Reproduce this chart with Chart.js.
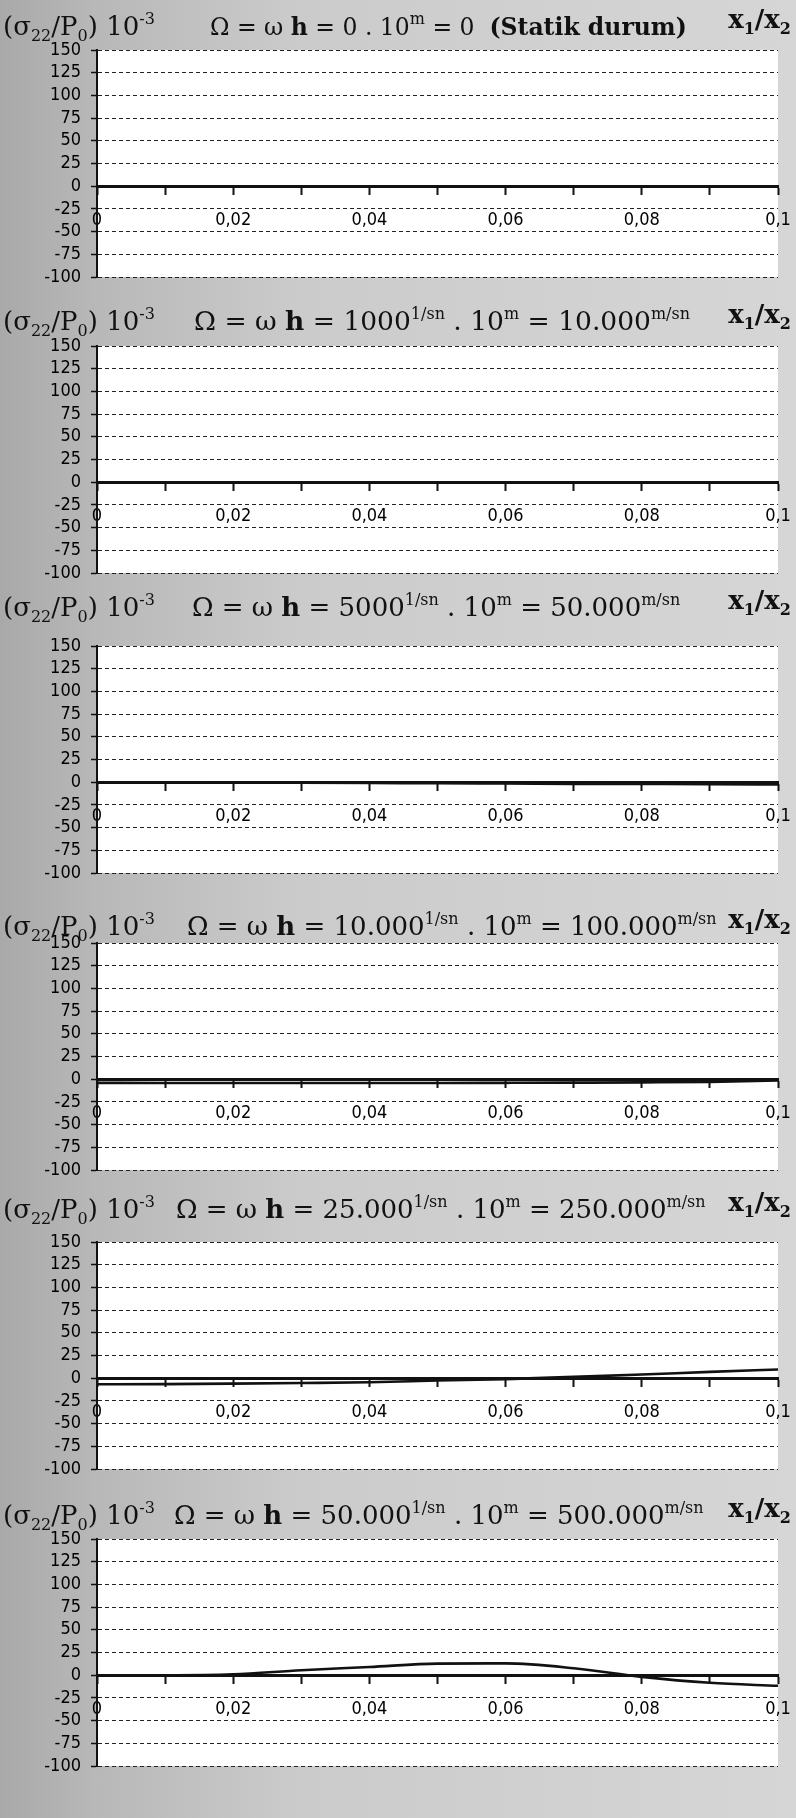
<!DOCTYPE html>
<html>
<head>
<meta charset="utf-8">
<script src="https://cdn.jsdelivr.net/npm/chart.js@4"></script>
<style>
  html, body { margin: 0; padding: 0; }
  body {
    width: 796px; height: 1818px; position: relative; overflow: hidden;
    background: linear-gradient(to right, #a9a9a9 0px, #b8b8b8 95px, #cbcbcb 300px, #d6d6d6 796px);
  }
  .panel { position: absolute; left: 0; width: 796px; height: 298px; }
  .panel canvas { position: absolute; left: 0; top: 0; }
  .ttl {
    position: absolute; white-space: nowrap; line-height: 30px; height: 30px;
    font-family: "DejaVu Serif", "Liberation Serif", serif; font-size: 26px; color: #111;
  }
  .ttl sub { font-size: 16px; vertical-align: -6px; }
  .ttl sup { font-size: 16px; vertical-align: 11px; }
  .ttl b { font-weight: bold; }
</style>
</head>
<body>
<script>
// x1/x2 positions of the data points
const xVals = [0, 0.01, 0.02, 0.03, 0.04, 0.05, 0.06, 0.07, 0.08, 0.09, 0.1];

// sigma22/P0 * 10^-3 for each Omega
const static0  = [0, 0, 0, 0, 0, 0, 0, 0, 0, 0, 0];
const om1000   = [0, 0, 0, 0, 0, 0, 0, 0, -0.3, -0.3, -0.3];
const om5000   = [0, 0, -0.3, -0.5, -0.8, -1.2, -1.5, -1.8, -2, -2.2, -2.5];
const om10000  = [-4, -4.2, -4.2, -4.2, -4.2, -4.2, -4, -3.8, -3.5, -3, -1.5];
const om25000  = [-6.6, -6.5, -6, -5.3, -4.4, -2.6, -1, 1.5, 4, 7, 9.5];
const om50000  = [0, 0, 1, 5.5, 9, 12.8, 13, 7.7, -1.8, -8.4, -11.7];

// title values
const omegaText = ["0", "1000", "5000", "10.000", "25.000", "50.000"];
const speedText = ["0", "10.000", "50.000", "100.000", "250.000", "500.000"];

const yTicks = { min: -100, max: 150, step: 25 };

const series = [static0, om1000, om5000, om10000, om25000, om50000];
const panelTops = [0, 296, 596, 893, 1192, 1489];
const titleCenters = [19, 314, 600, 919, 1202, 1508];
const midLeft = [210, 194, 192, 187, 176, 174];
const midSize = [23.5, 26.5, 26, 26, 26, 26];

const tickFont = "'Liberation Sans Narrow', 'DejaVu Sans Condensed', 'Liberation Sans', sans-serif";

const whiteArea = {
  id: 'whiteArea',
  beforeDraw(chart) {
    const a = chart.chartArea;
    chart.ctx.save();
    chart.ctx.fillStyle = '#ffffff';
    chart.ctx.fillRect(a.left, a.top, a.right - a.left, a.bottom - a.top);
    chart.ctx.restore();
  }
};

function xLabel(v) {
  const h = Math.round(v * 100);
  if (h % 2 !== 0) return '';
  return String(h / 100).replace('.', ',');
}

series.forEach((vals, i) => {
  const panel = document.createElement('div');
  panel.className = 'panel';
  panel.style.top = panelTops[i] + 'px';
  document.body.appendChild(panel);

  const canvas = document.createElement('canvas');
  canvas.width = 796;
  canvas.height = 298;
  panel.appendChild(canvas);

  const tTop = titleCenters[i] - panelTops[i] - 15;

  const left = document.createElement('div');
  left.className = 'ttl';
  left.style.left = '3px';
  left.style.top = tTop + 'px';
  left.innerHTML = '(σ<sub>22</sub>/P<sub>0</sub>) 10<sup>-3</sup>';
  panel.appendChild(left);

  const mid = document.createElement('div');
  mid.className = 'ttl';
  mid.style.left = midLeft[i] + 'px';
  mid.style.top = tTop + 'px';
  mid.style.fontSize = midSize[i] + 'px';
  if (i === 0) {
    mid.innerHTML = 'Ω = ω <b>h</b> = ' + omegaText[i] + ' . 10<sup>m</sup> = ' + speedText[i] +
      ' &nbsp;<b>(Statik durum)</b>';
  } else {
    mid.innerHTML = 'Ω = ω <b>h</b> = ' + omegaText[i] + '<sup>1/sn</sup> . 10<sup>m</sup> = ' +
      speedText[i] + '<sup>m/sn</sup>';
  }
  panel.appendChild(mid);

  const right = document.createElement('div');
  right.className = 'ttl';
  right.style.right = '5px';
  right.style.top = tTop + 'px';
  right.innerHTML = '<b>x<sub>1</sub>/x<sub>2</sub></b>';
  panel.appendChild(right);

  new Chart(canvas, {
    type: 'line',
    data: {
      datasets: [{
        data: xVals.map((x, k) => ({ x: x, y: vals[k] })),
        borderColor: '#111',
        borderWidth: 2.6,
        pointRadius: 0,
        cubicInterpolationMode: 'monotone'
      }]
    },
    options: {
      responsive: false,
      animation: false,
      layout: { padding: { top: 50, right: 18, bottom: 21, left: 0 } },
      plugins: { legend: { display: false }, tooltip: { enabled: false } },
      scales: {
        x: {
          type: 'linear',
          min: 0,
          max: 0.1,
          position: { y: 0 },
          ticks: {
            stepSize: 0.01,
            autoSkip: false,
            maxRotation: 0,
            padding: 16,
            color: '#000',
            font: { family: tickFont, size: 18 },
            callback: xLabel
          },
          grid: { drawOnChartArea: false, drawTicks: true, tickLength: 7, tickWidth: 2, tickColor: '#111' },
          border: { color: '#111', width: 3 },
          afterFit(scale) { scale.paddingLeft = 0; scale.paddingRight = 0; }
        },
        y: {
          min: yTicks.min,
          max: yTicks.max,
          ticks: {
            stepSize: yTicks.step,
            autoSkip: false,
            padding: 10,
            color: '#000',
            font: { family: tickFont, size: 18 }
          },
          grid: { color: '#222', lineWidth: 1, tickLength: 6, tickWidth: 1.5, tickColor: '#111' },
          border: { color: '#111', width: 2, dash: [4, 3] },
          afterFit(scale) { scale.width = 97; }
        }
      }
    },
    plugins: [whiteArea]
  });
});
</script>
</body>
</html>
